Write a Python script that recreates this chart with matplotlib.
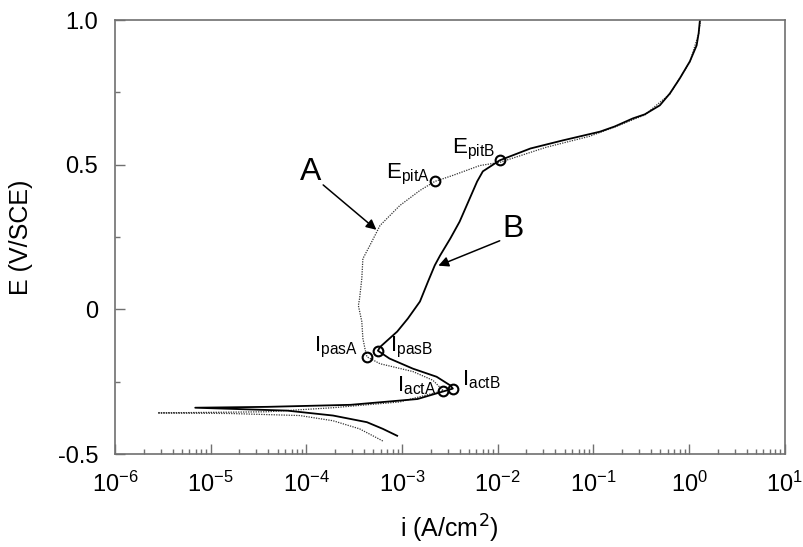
import numpy as np
import matplotlib.pyplot as plt
from matplotlib.ticker import LogLocator, MultipleLocator, NullFormatter

plt.rcParams['font.family'] = ['Liberation Sans', 'DejaVu Sans']
plt.rcParams['axes.unicode_minus'] = False

########### data ###################################

# curve A (dotted): cathodic branch -> Ecorr -> anodic scan
i_A = [6.3e-4, 3.6e-4, 1.9e-4, 8.5e-5, 1.6e-5, 2.8e-6, 3.9e-5, 1.9e-4, 9.5e-4, 2.7e-3,
       2.1e-3, 1.3e-3, 5.9e-4, 4.3e-4, 4.1e-4, 3.9e-4, 3.8e-4, 3.5e-4, 3.6e-4, 3.8e-4,
       3.9e-4, 4.6e-4, 5.9e-4, 9.5e-4, 1.54e-3, 2.2e-3, 3.4e-3, 6.5e-3, 1.05e-2, 3.2e-2,
       9.1e-2, 0.167, 0.345, 0.63, 1.02, 1.26, 1.32]
E_A = [-0.455, -0.413, -0.385, -0.367, -0.360, -0.358, -0.354, -0.340, -0.320, -0.281,
       -0.245, -0.215, -0.188, -0.164, -0.136, -0.100, -0.042, 0.013, 0.037, 0.106,
       0.175, 0.220, 0.290, 0.359, 0.411, 0.442, 0.463, 0.497, 0.508, 0.560,
       0.598, 0.630, 0.672, 0.744, 0.855, 0.952, 1.0]

# curve B (solid)
i_B = [8.9e-4, 6.3e-4, 4.3e-4, 1.9e-4, 6.3e-5, 6.9e-6, 3.9e-5, 2.9e-4, 1.45e-3, 3.4e-3,
       3.2e-3, 2.3e-3, 1.3e-3, 7.4e-4, 5.6e-4, 5.9e-4, 8.9e-4, 1.15e-3, 1.54e-3, 1.87e-3,
       2.2e-3, 2.5e-3, 3.2e-3, 4.0e-3, 5.1e-3, 6.1e-3, 7.0e-3, 1.05e-2, 2.2e-2, 4.8e-2,
       0.117, 0.167, 0.259, 0.345, 0.495, 0.63, 0.80, 1.02, 1.20, 1.26, 1.30]
E_B = [-0.437, -0.413, -0.390, -0.367, -0.350, -0.340, -0.337, -0.330, -0.310, -0.274,
       -0.263, -0.233, -0.205, -0.170, -0.143, -0.130, -0.077, -0.032, 0.027, 0.096,
       0.152, 0.186, 0.245, 0.303, 0.383, 0.442, 0.477, 0.515, 0.556, 0.584,
       0.614, 0.632, 0.660, 0.674, 0.705, 0.746, 0.798, 0.857, 0.912, 0.954, 1.0]

# marked points
pt_names = ['EpitA', 'EpitB', 'IpasA', 'IpasB', 'IactA', 'IactB']
pt_i = [2.2e-3, 1.05e-2, 4.3e-4, 5.6e-4, 2.7e-3, 3.4e-3]
pt_E = [0.442, 0.515, -0.164, -0.143, -0.281, -0.274]

x_decades = [1e-6, 1e-5, 1e-4, 1e-3, 1e-2, 1e-1, 1e0, 1e1]
y_ticks = [-0.5, 0, 0.5, 1.0]
y_ticklabels = ['-0.5', '0', '0.5', '1.0']

############ plot ###############

fig = plt.figure(figsize=(8.04, 5.47), dpi=100)
ax = fig.add_axes([0.143, 0.170, 0.833, 0.7934])

ax.plot(i_A, E_A, color='#333333', lw=0.9, linestyle=(0, (1, 1)))
ax.plot(i_B, E_B, color='black', lw=1.3)
ax.plot(pt_i, pt_E, 'o', mfc='none', mec='black', mew=1.5, ms=7)

ax.set_xscale('log')
ax.set_xlim(1e-6, 1e1)
ax.set_ylim(-0.5, 1.0)
ax.set_xticks(x_decades)
ax.xaxis.set_minor_locator(LogLocator(base=10, subs=np.arange(2, 10), numticks=20))
ax.xaxis.set_minor_formatter(NullFormatter())
ax.yaxis.set_minor_locator(MultipleLocator(0.25))
ax.set_yticks(y_ticks)
ax.set_yticklabels(y_ticklabels)

gray = '#707070'
for s in ax.spines.values():
    s.set_color(gray)
    s.set_linewidth(1.2)
ax.tick_params(which='both', direction='in', color=gray, top=False, right=False,
               labelsize=17)
ax.tick_params(which='major', length=7, width=1)
ax.tick_params(which='minor', length=3.5, width=1)
ax.tick_params(axis='x', pad=13)
ax.tick_params(axis='y', pad=12)

ax.set_xlabel('i (A/cm$^2$)', fontsize=18)
ax.set_ylabel('E (V/SCE)', fontsize=18)
ax.xaxis.set_label_coords(0.5, -0.135)
ax.yaxis.set_label_coords(-0.122, 0.5)

# labels for the curves with arrows
ax.text(1.1e-4, 0.473, 'A', fontsize=23, ha='center', va='center')
ax.annotate('', xy=(5.4e-4, 0.275), xytext=(1.5e-4, 0.43),
            arrowprops=dict(arrowstyle='-|>', color='black', lw=1.1,
                            mutation_scale=15, shrinkA=0, shrinkB=0))
ax.text(1.45e-2, 0.279, 'B', fontsize=23, ha='center', va='center')
ax.annotate('', xy=(2.4e-3, 0.151), xytext=(1.05e-2, 0.237),
            arrowprops=dict(arrowstyle='-|>', color='black', lw=1.1,
                            mutation_scale=15, shrinkA=0, shrinkB=0))

fs = 16
ax.text(1.96e-3, 0.452, r'$\mathregular{E_{pitA}}$', fontsize=fs, ha='right', va='baseline')
ax.text(9.3e-3, 0.539, r'$\mathregular{E_{pitB}}$', fontsize=fs, ha='right', va='baseline')
ax.text(3.47e-4, -0.146, r'$\mathregular{I_{pasA}}$', fontsize=fs, ha='right', va='baseline')
ax.text(7.5e-4, -0.146, r'$\mathregular{I_{pasB}}$', fontsize=fs, ha='left', va='baseline')
ax.text(2.3e-3, -0.285, r'$\mathregular{I_{actA}}$', fontsize=fs, ha='right', va='baseline')
ax.text(4.2e-3, -0.264, r'$\mathregular{I_{actB}}$', fontsize=fs, ha='left', va='baseline')

plt.savefig('out.png', dpi=100)
